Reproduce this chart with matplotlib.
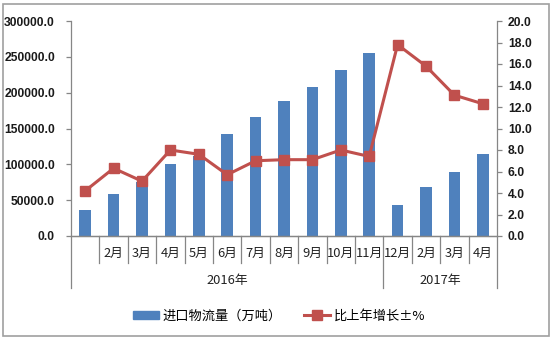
import numpy as np
import matplotlib.pyplot as plt
from matplotlib.patches import Rectangle
from matplotlib.ticker import FormatStrFormatter

plt.rcParams['font.family'] = ['Noto Sans CJK SC', 'DejaVu Sans']

months = ["", "2月", "3月", "4月", "5月", "6月", "7月", "8月", "9月", "10月", "11月",
          "12月", "2月", "3月", "4月"]
years = ["2016年", "2017年"]
year_sizes = [11, 4]
volume = [36000, 58000, 75000, 101000, 112000, 143000, 166000, 188000, 208000,
          232000, 256000, 43000, 68000, 90000, 114000]
growth = [4.2, 6.3, 5.1, 8.0, 7.6, 5.7, 7.0, 7.1, 7.1, 8.0, 7.4, 17.8, 15.8, 13.1, 12.3]

bar_color = "#4F81BD"
line_color = "#C0504D"
axis_color = "#868686"

fig = plt.figure(figsize=(5.54, 3.40), dpi=100)
ax = fig.add_axes([71 / 554, 1 - 236 / 340, 426 / 554, 215 / 340])
ax2 = ax.twinx()

x = np.arange(len(months))
ax.bar(x, volume, width=0.41, color=bar_color, zorder=2)
ax2.plot(x, growth, color=line_color, lw=2.2, marker="s", ms=7.5,
         markeredgecolor=line_color, zorder=3)

ax.set_xlim(-0.5, len(months) - 0.5)
ax.set_ylim(0, 300000)
ax.set_yticks(np.arange(0, 300001, 50000))
ax.yaxis.set_major_formatter(FormatStrFormatter("%.1f"))
ax2.set_ylim(0, 20)
ax2.set_yticks(np.arange(0, 20.1, 2))
ax2.yaxis.set_major_formatter(FormatStrFormatter("%.1f"))

for a, pad in ((ax, 8), (ax2, 4.3)):
    a.spines["top"].set_visible(False)
    for s in ("left", "right", "bottom"):
        a.spines[s].set_color(axis_color)
        a.spines[s].set_linewidth(0.9)
    a.tick_params(axis="y", length=3.6, width=0.9, color=axis_color, pad=pad)
    for lbl in a.get_yticklabels():
        lbl.set_family("Liberation Sans")
        lbl.set_fontweight("bold")
        lbl.set_fontsize(8.7)
        lbl.set_color("#1a1a1a")
ax.tick_params(axis="x", length=0, labelbottom=False)
ax2.spines["left"].set_visible(False)
ax.spines["right"].set_visible(False)

# category labels and separator lines below the axis
trans = ax.get_xaxis_transform()
for i, m in enumerate(months):
    ax.text(i, -0.079, m, transform=trans, ha="center", va="center", fontsize=9.3,
            color="#222222")
edges = np.cumsum(year_sizes)
for b in np.arange(len(months) + 1):
    long_line = b == 0 or b in edges
    y_end = -0.242 if long_line else -0.126
    ax.plot([b - 0.5, b - 0.5], [0, y_end], transform=trans, color=axis_color,
            lw=0.9, clip_on=False)
start = 0
for yr, n in zip(years, year_sizes):
    ax.text(start + n / 2 - 0.5, -0.205, yr, transform=trans, ha="center",
            va="center", fontsize=9.3, color="#222222")
    start += n

# legend
h1 = Rectangle((0, 0), 1, 1, color=bar_color)
h2 = plt.Line2D([], [], color=line_color, lw=2.2, marker="s", ms=7)
fig.legend([h1, h2], ["进口物流量（万吨）", "比上年增长±%"], loc="center",
           bbox_to_anchor=(279 / 554, 1 - 316 / 340), ncol=2, frameon=False,
           fontsize=9.5, handlelength=2.0, handleheight=0.5, columnspacing=1.7,
           handletextpad=0.25)

# outer chart border
fig.patches.append(Rectangle((3 / 554, 4 / 340), 546 / 554, 332 / 340,
                             transform=fig.transFigure, fill=False,
                             edgecolor="#A0A0A0", lw=1.2))

fig.savefig("out.png", dpi=100)
